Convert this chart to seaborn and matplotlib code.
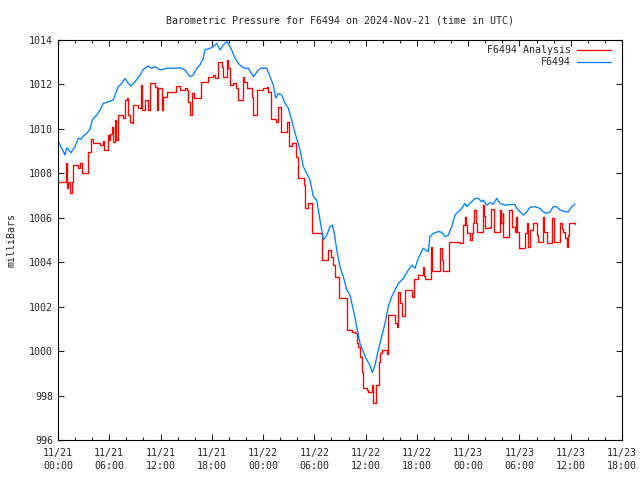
import numpy as np
import pandas as pd
import matplotlib
matplotlib.use("Agg")
import matplotlib.pyplot as plt
from matplotlib.ticker import MultipleLocator
import seaborn as sns

# hours after 2024-11-21 00:00 UTC
station_hours = [
    0.04, 0.35, 0.82, 1.02, 1.52, 1.99, 2.38, 2.69, 2.96, 3.36, 3.74, 4.01, 4.53, 4.92,
    5.30, 5.89, 6.47, 6.67, 7.06, 7.45, 7.84, 8.23, 8.54, 9.01, 9.60, 9.98, 10.57, 10.97,
    11.35, 11.94, 12.72, 13.69, 14.28, 14.86, 15.45, 15.83, 16.23, 16.62, 17.00, 17.20,
    17.79, 18.17, 18.57, 18.96, 19.35, 19.74, 20.01, 20.33, 20.71, 21.10, 21.50, 21.88,
    22.27, 22.86, 23.44, 23.76, 24.42, 24.81, 25.20, 25.48, 25.78, 26.18, 26.57, 26.95,
    27.35, 27.74, 27.93, 28.32, 28.71, 29.10, 29.49, 29.88, 30.27, 30.66, 31.05, 31.45,
    31.83, 32.10, 32.34, 32.62, 33.00, 33.39, 33.79, 34.17, 34.56, 34.96, 35.34, 35.73,
    36.13, 36.51, 36.78, 37.10, 37.48, 37.88, 38.27, 38.65, 39.05, 39.44, 39.83, 40.41,
    41.00, 41.39, 41.78, 42.17, 42.75, 43.34, 43.53, 43.92, 44.51, 44.90, 45.29, 45.68,
    46.07, 46.46, 46.85, 47.24, 47.63, 47.83, 48.22, 48.80, 49.19, 49.58, 49.77, 50.17,
    50.56, 50.94, 51.34, 51.73, 52.31, 52.90, 53.48, 53.68, 54.07, 54.46, 54.85, 55.24,
    55.82, 56.41, 56.79, 57.19, 57.58, 57.96, 58.35, 58.75, 59.33, 59.72, 60.11, 60.50,
]
station_mbar = [
    1009.42, 1009.20, 1008.83, 1009.14, 1008.93, 1009.20, 1009.58, 1009.53, 1009.68,
    1009.80, 1009.98, 1010.40, 1010.62, 1010.85, 1011.15, 1011.22, 1011.30, 1011.52,
    1011.90, 1012.05, 1012.27, 1012.05, 1011.93, 1012.12, 1012.42, 1012.68, 1012.83,
    1012.73, 1012.80, 1012.65, 1012.73, 1012.73, 1012.75, 1012.65, 1012.35, 1012.42,
    1012.73, 1012.88, 1013.18, 1013.55, 1013.63, 1013.70, 1013.85, 1013.55, 1013.78,
    1013.93, 1013.78, 1013.55, 1013.18, 1012.95, 1012.80, 1012.73, 1012.73, 1012.35,
    1012.65, 1012.73, 1012.73, 1012.35, 1011.97, 1011.38, 1011.60, 1011.52, 1011.15,
    1010.93, 1010.40, 1009.80, 1009.58, 1009.05, 1008.30, 1008.00, 1007.70, 1006.95,
    1006.80, 1005.90, 1005.00, 1005.22, 1005.60, 1005.67, 1005.30, 1004.55, 1003.80,
    1003.35, 1002.75, 1002.52, 1001.85, 1001.10, 1000.35, 999.97, 999.60, 999.37,
    999.03, 999.37, 1000.05, 1000.65, 1001.25, 1002.00, 1002.45, 1002.75, 1003.05,
    1003.27, 1003.65, 1003.87, 1003.73, 1004.18, 1004.63, 1004.47, 1005.15, 1005.30,
    1005.38, 1005.35, 1005.15, 1005.22, 1005.60, 1006.12, 1006.28, 1006.42, 1006.65,
    1006.50, 1006.65, 1006.87, 1006.87, 1006.72, 1006.80, 1006.57, 1006.68, 1006.62,
    1006.87, 1006.65, 1006.57, 1006.60, 1006.60, 1006.42, 1006.27, 1006.12, 1006.27,
    1006.47, 1006.50, 1006.42, 1006.27, 1006.20, 1006.27, 1006.50, 1006.50, 1006.35,
    1006.27, 1006.27, 1006.50, 1006.62,
]

# analysis values change in steps; each value holds until the next hour listed
analysis_hours = [
    0.0, 0.90, 1.02, 1.17, 1.40, 1.60, 1.79, 2.31, 2.57, 2.84, 3.55, 3.86, 4.13, 4.92,
    5.30, 5.42, 5.82, 5.97, 6.14, 6.35, 6.47, 6.67, 6.75, 7.06, 7.57, 7.84, 8.04, 8.23,
    8.43, 8.70, 8.81, 9.40, 9.71, 9.87, 10.18, 10.57, 10.77, 11.35, 11.55, 11.74, 12.14,
    12.32, 12.72, 13.77, 14.28, 14.86, 15.10, 15.25, 15.45, 15.72, 15.95, 16.74, 17.59,
    18.17, 18.37, 18.76, 19.16, 19.35, 19.74, 19.93, 20.13, 20.52, 20.80, 21.10, 21.69,
    21.80, 22.08, 22.67, 22.86, 23.25, 24.03, 24.42, 24.54, 24.89, 25.48, 25.71, 25.78,
    26.06, 26.76, 27.03, 27.42, 27.82, 28.05, 28.82, 28.91, 29.29, 29.76, 30.86, 30.93,
    31.63, 31.95, 32.22, 32.42, 32.89, 33.79, 34.37, 34.76, 34.96, 35.14, 35.34, 35.61,
    35.73, 36.13, 36.31, 36.71, 36.83, 37.18, 37.57, 37.68, 37.88, 38.47, 38.58, 39.44,
    39.64, 39.83, 40.02, 40.22, 40.61, 41.39, 41.70, 42.17, 42.68, 42.83, 42.95, 43.62,
    43.73, 43.80, 44.70, 44.90, 45.02, 45.72, 47.04, 47.36, 47.63, 47.75, 47.90, 48.22,
    48.41, 48.53, 48.68, 48.86, 49.00, 49.70, 49.85, 49.97, 50.56, 50.67, 51.06, 51.73,
    51.81, 52.04, 52.11, 52.82, 53.09, 53.48, 53.60, 53.75, 53.99, 54.65, 54.85, 55.04,
    55.24, 55.62, 56.02, 56.21, 56.72, 56.91, 57.19, 57.78, 58.05, 58.75, 58.95, 59.13,
    59.33, 59.60, 59.72, 59.83, 60.50,
]
analysis_mbar = [
    1007.62, 1008.45, 1007.33, 1007.62, 1007.10, 1007.62, 1008.38, 1008.22, 1008.45,
    1008.00, 1008.97, 1009.53, 1009.35, 1009.27, 1009.47, 1009.05, 1009.72, 1009.50,
    1009.75, 1010.10, 1009.42, 1010.40, 1009.50, 1010.62, 1010.48, 1011.30, 1011.38,
    1010.62, 1010.32, 1010.25, 1011.07, 1010.93, 1011.97, 1010.85, 1011.30, 1010.85,
    1012.05, 1011.90, 1010.85, 1011.83, 1010.85, 1011.45, 1011.67, 1011.95, 1011.75,
    1011.83, 1011.75, 1011.22, 1010.62, 1011.60, 1011.38, 1012.12, 1012.35, 1012.42,
    1012.27, 1013.03, 1012.80, 1012.35, 1013.10, 1012.73, 1011.97, 1012.05, 1011.83,
    1011.30, 1012.35, 1012.10, 1011.83, 1011.45, 1010.62, 1011.75, 1011.83, 1011.90,
    1011.67, 1010.43, 1010.32, 1010.62, 1011.00, 1009.87, 1010.32, 1009.23, 1009.35,
    1008.75, 1007.78, 1007.47, 1006.42, 1006.65, 1005.30, 1005.22, 1004.10, 1004.55,
    1004.25, 1003.87, 1003.35, 1002.37, 1000.95, 1000.87, 1000.80, 1000.35, 1000.20,
    999.75, 999.07, 998.32, 998.25, 998.17, 998.47, 997.65, 998.47, 999.52, 999.90,
    1000.05, 999.87, 1001.62, 1001.25, 1001.10, 1002.67, 1002.15, 1001.60, 1002.75,
    1002.45, 1003.23, 1003.42, 1003.80, 1003.40, 1003.23, 1004.70, 1004.20, 1003.62,
    1004.63, 1004.10, 1003.62, 1004.92, 1004.85, 1005.67, 1006.05, 1005.67, 1005.30,
    1005.00, 1005.30, 1005.75, 1006.35, 1005.75, 1005.38, 1006.57, 1006.10, 1005.52,
    1005.60, 1006.38, 1005.38, 1006.35, 1005.75, 1006.20, 1005.15, 1006.35, 1005.60,
    1005.38, 1006.05, 1005.38, 1004.63, 1005.30, 1005.75, 1004.70, 1005.45, 1005.75,
    1005.22, 1004.92, 1006.05, 1005.38, 1004.85, 1005.98, 1004.92, 1005.75, 1005.50,
    1005.38, 1005.07, 1004.70, 1005.22, 1005.78, 1005.70,
]

tick_hours = [0, 6, 12, 18, 24, 30, 36, 42, 48, 54, 60, 66]
tick_labels = [
    "11/21\n00:00", "11/21\n06:00", "11/21\n12:00", "11/21\n18:00",
    "11/22\n00:00", "11/22\n06:00", "11/22\n12:00", "11/22\n18:00",
    "11/23\n00:00", "11/23\n06:00", "11/23\n12:00", "11/23\n18:00",
]
y_ticks = [996, 998, 1000, 1002, 1004, 1006, 1008, 1010, 1012, 1014]

sns.set_style("ticks")
plt.rcParams["font.family"] = ["DejaVu Sans Mono", "DejaVu Sans"]
plt.rcParams["font.size"] = 7.2

fig = plt.figure(figsize=(6.4, 4.8), dpi=100)
ax = fig.add_axes([58 / 640, 40 / 480, 564 / 640, 400 / 480])

df_an = pd.DataFrame({"hours": analysis_hours, "mbar": analysis_mbar})
df_st = pd.DataFrame({"hours": station_hours, "mbar": station_mbar})

sns.lineplot(data=df_an, x="hours", y="mbar", ax=ax, color="#ff0000", lw=0.95,
             drawstyle="steps-post", estimator=None, sort=False, label="F6494 Analysis")
sns.lineplot(data=df_st, x="hours", y="mbar", ax=ax, color="#0080ff", lw=0.95,
             estimator=None, sort=False, label="F6494")

ax.set_xlim(0, 66)
ax.set_ylim(996, 1014)
ax.set_xticks(tick_hours)
ax.set_xticklabels(tick_labels, linespacing=1.3)
ax.set_yticks(y_ticks)
ax.xaxis.set_minor_locator(MultipleLocator(2))
ax.tick_params(which="both", direction="in", top=True, right=True, width=0.8, labelsize=7.2)
ax.tick_params(which="major", length=4)
ax.tick_params(axis="x", which="major", pad=6)
ax.tick_params(which="minor", length=2)
for s in ax.spines.values():
    s.set_linewidth(0.8)
    s.set_color("black")

ax.set_xlabel("")
ax.set_ylabel("milliBars", fontsize=7.2, labelpad=9)
# title centred over the plot area, like gnuplot does
ax.set_title("Barometric Pressure for F6494 on 2024-Nov-21 (time in UTC)", fontsize=7.2, pad=12)

ax.legend(loc="upper right", bbox_to_anchor=(1.0, 1.0 + 6 / 400), markerfirst=False,
          frameon=False, fontsize=7.2, handlelength=3.4, handletextpad=0.6,
          labelspacing=0.2, borderaxespad=0.8, borderpad=0.3)

fig.savefig("out.png", dpi=100)
